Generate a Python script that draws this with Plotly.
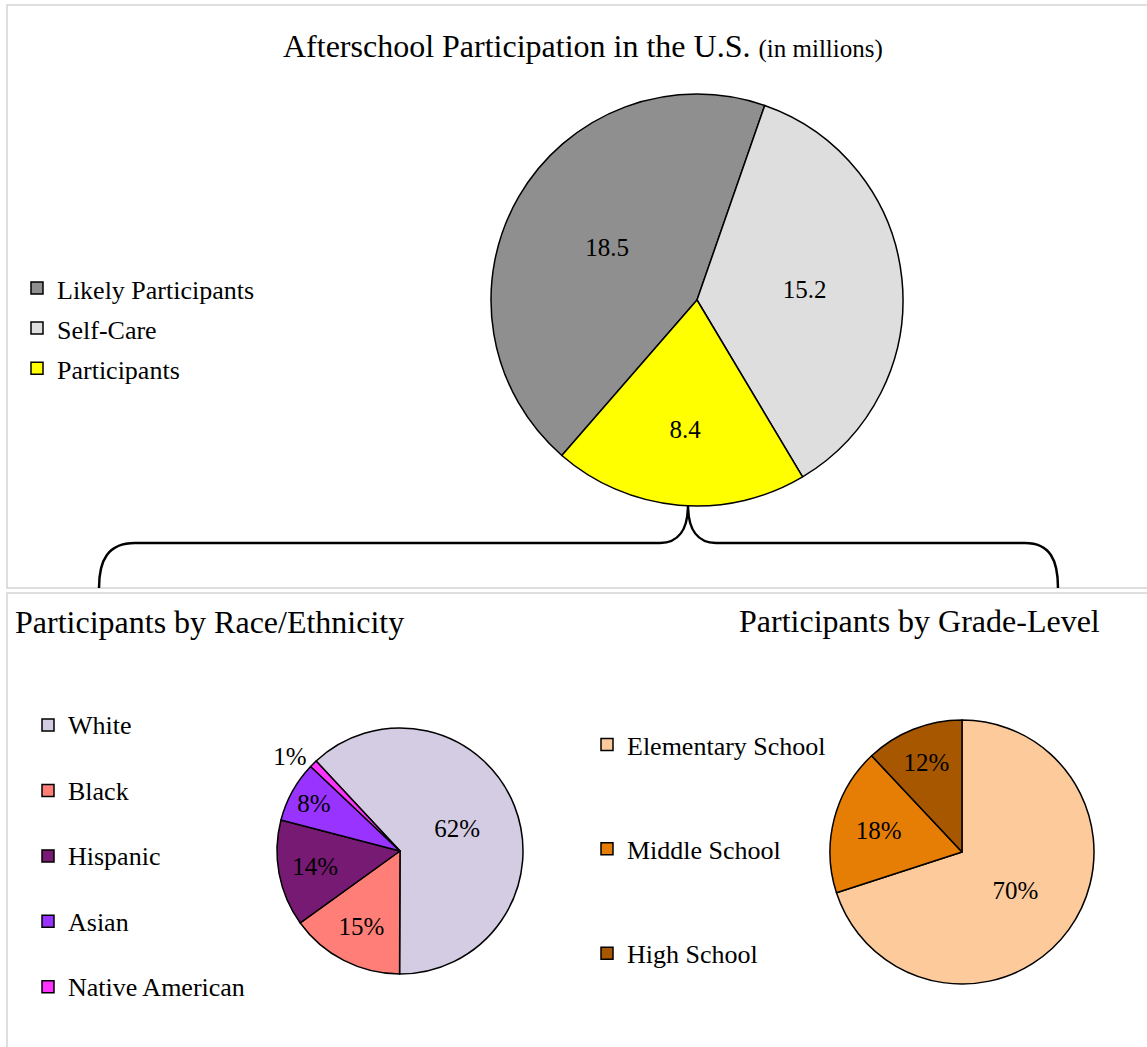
import plotly.graph_objects as go

W, H = 1147, 1047
SERIF = "Liberation Serif, Times New Roman, serif"

# ---- data ----
overall_labels = ["Likely Participants", "Self-Care", "Participants"]
overall_values = [18.5, 15.2, 8.4]
overall_colors = ["#8f8f8f", "#dedede", "#ffff00"]

race_labels = ["White", "Black", "Hispanic", "Asian", "Native American"]
race_values = [62, 15, 14, 8, 1]
race_colors = ["#d3cce3", "#ff7f78", "#771a73", "#9933ff", "#ff33ff"]

grade_labels = ["Elementary School", "Middle School", "High School"]
grade_values = [70, 18, 12]
grade_colors = ["#fdca9c", "#e67e06", "#a65700"]


def dom(cx, cy, r):
    return dict(x=[(cx - r) / W, (cx + r) / W], y=[1 - (cy + r) / H, 1 - (cy - r) / H])


def leg_labels(labels, extra_lines):
    return ["<span style='font-size:26px'>%s</span>" % l + "<br>\u00a0" * extra_lines for l in labels]


line = dict(color="black", width=1.5)

fig = go.Figure()

fig.add_trace(go.Pie(
    labels=leg_labels(overall_labels, 0), values=overall_values,
    marker=dict(colors=overall_colors, line=line),
    sort=False, direction="clockwise", rotation=221,
    texttemplate="%{value}", textposition="inside", insidetextorientation="horizontal",
    insidetextfont=dict(family=SERIF, size=25, color="black"),
    domain=dom(697, 300, 206), legend="legend", hoverinfo="skip",
))

fig.add_trace(go.Pie(
    labels=leg_labels(race_labels, 1), values=race_values,
    marker=dict(colors=race_colors, line=line),
    sort=False, direction="clockwise", rotation=-43,
    texttemplate="%{percent:.0%}",
    textposition=["inside", "inside", "inside", "inside", "outside"],
    insidetextorientation="horizontal",
    insidetextfont=dict(family=SERIF, size=25, color="black"),
    outsidetextfont=dict(family=SERIF, size=25, color="black"),
    domain=dom(400, 851, 123), legend="legend2", hoverinfo="skip",
))

fig.add_trace(go.Pie(
    labels=leg_labels(grade_labels, 2), values=grade_values,
    marker=dict(colors=grade_colors, line=line),
    sort=False, direction="clockwise", rotation=0,
    texttemplate="%{percent:.0%}", textposition="inside", insidetextorientation="horizontal",
    insidetextfont=dict(family=SERIF, size=25, color="black"),
    domain=dom(962, 852, 132), legend="legend3", hoverinfo="skip",
))

# panel frames and the connecting brace (pixel coordinates on hidden axes)
shapes = [
    dict(type="rect", x0=7, y0=5, x1=1160, y1=588, line=dict(color="#d4d4d4", width=1.5), layer="below"),
    dict(type="rect", x0=7, y0=593, x1=1160, y1=1060, line=dict(color="#d4d4d4", width=1.5), layer="below"),
    dict(type="path",
         path="M 99,588 C 99,560 108,543 135,543 L 660,543 C 678,543 688,530 688,505 "
              "C 688,530 698,543 716,543 L 1025,543 C 1050,543 1058,560 1058,588",
         line=dict(color="black", width=2.5)),
]

annotations = [
    dict(x=583, y=46, xref="x", yref="y", showarrow=False, xanchor="center", yanchor="middle",
         text="Afterschool Participation in the U.S. <span style='font-size:25px'>(in millions)</span>",
         font=dict(family=SERIF, size=32, color="black")),
    dict(x=13, y=622, xref="x", yref="y", showarrow=False, xanchor="left", yanchor="middle",
         text="Participants by Race/Ethnicity", font=dict(family=SERIF, size=32, color="black")),
    dict(x=1102, y=621, xref="x", yref="y", showarrow=False, xanchor="right", yanchor="middle",
         text="Participants by Grade-Level", font=dict(family=SERIF, size=32, color="black")),
]

fig.update_layout(
    width=W, height=H, margin=dict(l=0, r=0, t=0, b=0),
    paper_bgcolor="white", plot_bgcolor="white",
    xaxis=dict(range=[0, W], visible=False, domain=[0, 1], fixedrange=True),
    yaxis=dict(range=[H, 0], visible=False, domain=[0, 1], fixedrange=True),
    shapes=shapes, annotations=annotations,
    legend=dict(x=17 / W, y=1 - 263 / H, xanchor="left", yanchor="top",
                font=dict(family=SERIF, size=28.5, color="black"), bgcolor="rgba(0,0,0,0)"),
    legend2=dict(x=28 / W, y=1 - 703 / H, xanchor="left", yanchor="top", valign="top",
                 font=dict(family=SERIF, size=24, color="black"), bgcolor="rgba(0,0,0,0)"),
    legend3=dict(x=587 / W, y=1 - 721 / H, xanchor="left", yanchor="top", valign="top",
                 font=dict(family=SERIF, size=26, color="black"), bgcolor="rgba(0,0,0,0)"),
    showlegend=True,
)

fig.write_html("out.html")
